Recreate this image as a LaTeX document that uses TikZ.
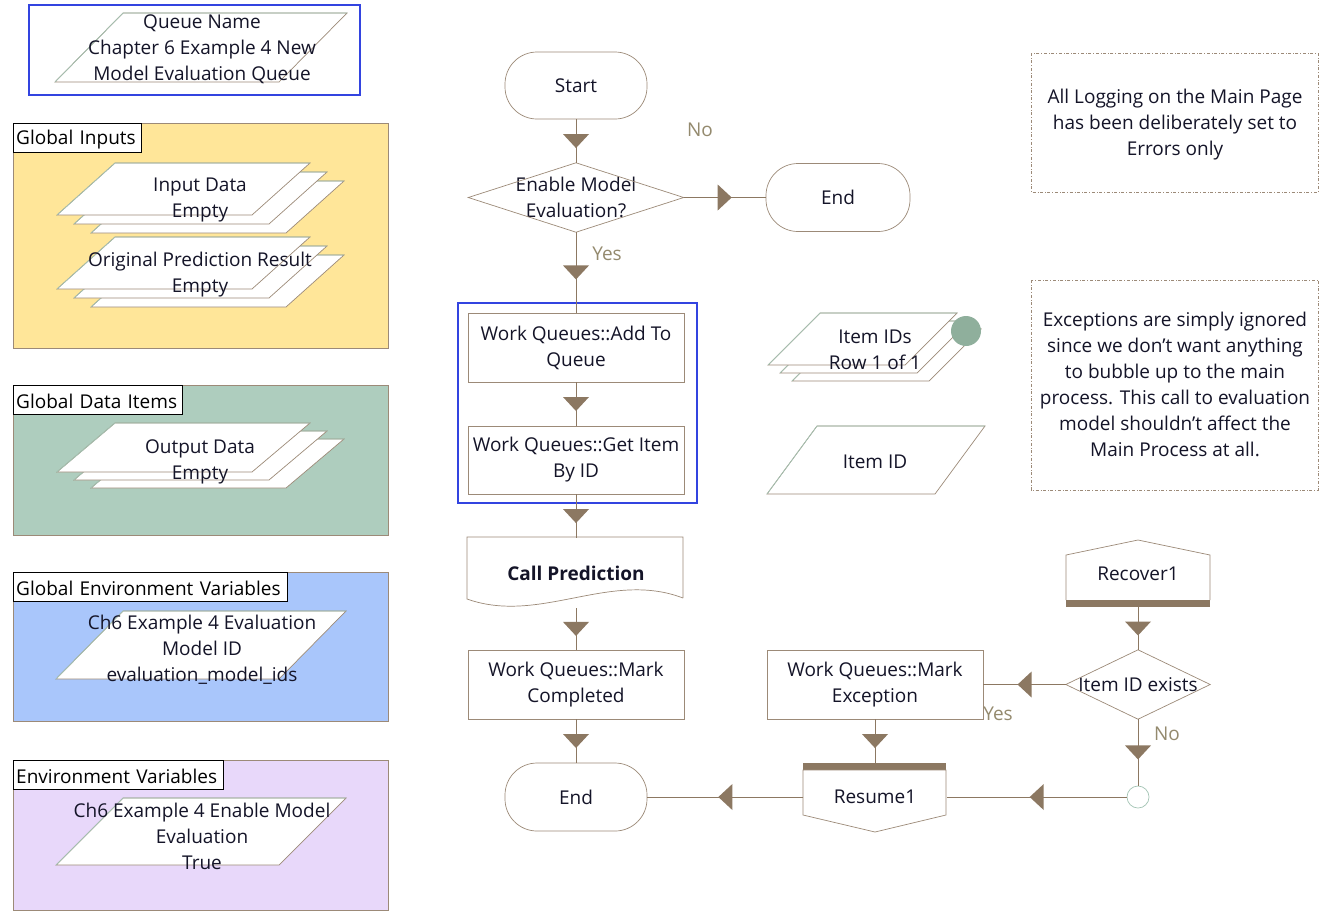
\documentclass[tikz,border=0pt]{standalone}
\usepackage{fontspec}
\setmainfont{Open Sans}
\usetikzlibrary{decorations.markings,calc}
\definecolor{ln}{HTML}{8C7862}
\definecolor{bd}{HTML}{9C8A78}
\definecolor{gb}{HTML}{A3C4B4}
\definecolor{tx}{HTML}{141428}
\definecolor{lbl}{HTML}{948A6E}
\definecolor{qblue}{HTML}{3344E0}
\definecolor{yel}{HTML}{FFE699}
\definecolor{sage}{HTML}{AECDBE}
\definecolor{lblue}{HTML}{A9C6FB}
\definecolor{lav}{HTML}{E8D8FA}
\definecolor{dot}{HTML}{8FAF9C}
\newcommand\pgr[5]{%
  \filldraw[fill=white,draw=bd,line width=0.7pt] (#1,#2) -- ++(#3,0) -- ++(-#5,#4) -- ++(-#3,0) -- cycle;
  \draw[gb,line width=0.7pt] (#1-#5,#2+#4) -- (#1,#2) -- ++(#3,0);}
\newcommand\pgrstack[7]{%
  \pgr{#1+2*#6}{#2+2*#7}{#3}{#4}{#5}%
  \pgr{#1+#6}{#2+#7}{#3}{#4}{#5}%
  \pgr{#1}{#2}{#3}{#4}{#5}}
\begin{document}
\begin{tikzpicture}[x=1pt,y=-1pt,
  txt/.style={font=\fontsize{19}{26}\selectfont, text=tx, align=center},
  flow/.style={draw=ln, line width=0.9pt, postaction={decorate},
    decoration={markings, mark=at position 0.5 with {\fill[ln] (-7pt,13pt) -- (7pt,0pt) -- (-7pt,-13pt) -- cycle;}}},
  procbox/.style={draw=bd, fill=white, line width=0.7pt, minimum width=216pt, minimum height=69pt, inner sep=0pt, txt},
  term/.style={draw=bd, fill=white, line width=0.7pt, rounded corners=32pt, minimum width=142pt, minimum height=67pt, inner sep=0pt, txt},
  dec/.style={minimum width=215pt, minimum height=69pt, inner sep=0pt, txt},
  plain/.style={inner sep=0pt, txt},
  free/.style={inner sep=0pt, txt, yshift=-2pt},
  lab/.style={draw=black, fill=white, anchor=north west, inner xsep=3pt, inner ysep=0pt, minimum height=29pt, text height=18pt, align=left, font=\fontsize{19}{26}\selectfont, text=black},
  yn/.style={inner sep=0pt, font=\fontsize{19}{26}\selectfont, text=lbl},
  panel/.style={draw=bd, line width=0.8pt},
  note/.style={draw=bd, dash dot, line width=0.8pt}]
\useasboundingbox (0,0) rectangle (1325,922);
\fill[white] (0,0) rectangle (1325,922);

% ---------- left column ----------
\draw[qblue, line width=2.5pt] (29,5) rectangle (360,95);
\pgr{123}{13}{224}{69}{68}
\node[free] (qn) at (202,47) {Queue Name\\Chapter 6 Example 4 New\\Model Evaluation Queue};

\filldraw[panel, fill=yel] (13,123) rectangle (388,348);
\node[lab, text width=122pt] (gi) at (13,123) {Global Inputs};
\pgrstack{115}{163}{195}{52}{58}{17}{9}
\node[free] (ind) at (200,197.5) {Input Data\\Empty};
\pgrstack{115}{237}{195}{52}{58}{17}{9}
\node[free] (opr) at (200,272.5) {Original Prediction Result\\Empty};

\filldraw[panel, fill=sage] (13,385) rectangle (388,535);
\node[lab, text width=163pt] (gd) at (13,385) {Global Data Items};
\pgrstack{115}{423}{195}{49}{58}{17}{8}
\node[free] (od) at (200,460) {Output Data\\Empty};

\filldraw[panel, fill=lblue] (13,572) rectangle (388,721);
\node[lab, text width=268pt] (ge) at (13,572) {Global Environment Variables};
\pgr{123}{611}{223}{68}{67}
\node[free] (gev) at (202,647.5) {Ch6 Example 4 Evaluation\\Model ID\\evaluation\_model\_ids};

\filldraw[panel, fill=lav] (13,760) rectangle (388,910);
\node[lab, text width=204pt] (ev) at (13,760) {Environment Variables};
\pgr{123}{798}{223}{67}{67}
\node[free] (evv) at (202,834.5) {Ch6 Example 4 Enable Model\\Evaluation\\True};

% ---------- main flow ----------
\draw[qblue, line width=2.5pt] (458,303) rectangle (697,503);
\node[term] (start) at (576,85.5) {Start};
\node[dec] (d1) at (576,197.5) {Enable Model\\Evaluation?};
\draw[bd, line width=0.7pt] (d1.north) -- (d1.east) -- (d1.south) -- (d1.west) -- cycle;
\node[term, minimum width=144pt, minimum height=68pt] (end1) at (838,197.5) {End};
\node[procbox] (add) at (576,347.5) {Work Queues::Add To\\Queue};
\node[procbox, minimum height=68pt] (get) at (576,460) {Work Queues::Get Item\\By ID};
\node[plain, minimum width=216pt, minimum height=70pt, font=\fontsize{19}{26}\selectfont\bfseries] (cp) at (576,573) {Call Prediction};
\draw[bd, line width=0.7pt] (683,598) -- (683,537) -- (467,537) -- (467,599)
   .. controls (540,625) and (610,570) .. (683,598);
\node[procbox] (mc) at (576,684.5) {Work Queues::Mark\\Completed};
\node[term, minimum height=68pt] (end2) at (576,797) {End};

\node[procbox] (mx) at (875,684.5) {Work Queues::Mark\\Exception};
\node[plain, minimum width=143pt, minimum height=68pt] (rs) at (875,797) {Resume1};
\fill[ln] (803,763) rectangle (946,770);
\draw[bd, line width=0.7pt] (803,770) -- (946,770) -- (946,815) -- (875,832) -- (803,815) -- cycle;

\node[plain, minimum width=144pt, minimum height=67pt] (rc) at (1138,573.5) {Recover1};
\draw[bd, line width=0.7pt] (1066,600) -- (1066,555) -- (1138,540) -- (1210,555) -- (1210,600);
\fill[ln] (1066,600) rectangle (1210,607);
\node[dec, minimum width=144pt] (d2) at (1138,684.5) {Item ID exists};
\draw[bd, line width=0.7pt] (d2.north) -- (d2.east) -- (d2.south) -- (d2.west) -- cycle;
\node[circle, draw=gb, line width=0.7pt, minimum size=22pt, inner sep=0pt] (jn) at (1138,797) {};

% data items
\pgrstack{820}{313}{137}{52}{52}{12}{8}
\fill[dot] (966,331) circle (15);
\node[free] (ids) at (875,347.5) {Item IDs\\Row 1 of 1};
\pgr{817}{426}{168}{68}{50}
\node[free] (iid) at (875,460) {Item ID};

% notes
\draw[note] (1031,53) rectangle (1318,192);
\node[free] (n1) at (1175,123) {All Logging on the Main Page\\has been deliberately set to\\Errors only};
\draw[note] (1031,280) rectangle (1318,490);
\node[free] (n2) at (1175,382) {Exceptions are simply ignored\\since we don't want anything\\to bubble up to the main\\process. This call to evaluation\\model shouldn't affect the\\Main Process at all.};

% connectors
\draw[flow] (start) -- (d1);
\draw[flow] (d1) -- (end1);
\draw[flow] (d1) -- (add);
\draw[flow] (add) -- (get);
\draw[flow] (get) -- (cp);
\draw[flow] (cp) -- (mc);
\draw[flow] (mc) -- (end2);
\draw[flow] (mx) -- (rs);
\draw[flow] (rs) -- (end2);
\draw[flow] (rc) -- (d2);
\draw[flow] (d2) -- (mx);
\draw[flow] (d2) -- (jn);
\draw[flow] (jn) -- (rs);

% labels
\node[yn] (lno1) at (700,130) {No};
\node[yn] (lyes1) at (607,254) {Yes};
\node[yn] (lyes2) at (998,714) {Yes};
\node[yn] (lno2) at (1167,734) {No};
\end{tikzpicture}
\end{document}
